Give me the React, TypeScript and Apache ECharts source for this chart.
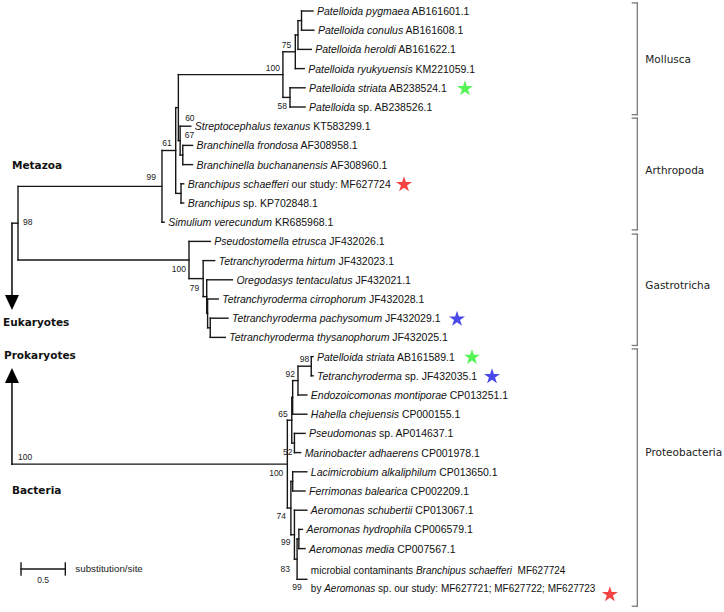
import { useEffect, useRef } from "react";
import * as echarts from "echarts";

// ---------- DATA ----------
// Leaves, top to bottom (row = vertical slot). *...* marks italic text.
const LEAF_LABELS = [
  "*Patelloida pygmaea* AB161601.1",
  "*Patelloida conulus* AB161608.1",
  "*Patelloida heroldi* AB161622.1",
  "*Patelloida ryukyuensis* KM221059.1",
  "*Patelloida striata* AB238524.1",
  "*Patelloida* sp. AB238526.1",
  "*Streptocephalus texanus* KT583299.1",
  "*Branchinella frondosa* AF308958.1",
  "*Branchinella buchananensis* AF308960.1",
  "*Branchipus schaefferi* our study: MF627724",
  "*Branchipus* sp. KP702848.1",
  "*Simulium verecundum* KR685968.1",
  "*Pseudostomella etrusca* JF432026.1",
  "*Tetranchyroderma hirtum* JF432023.1",
  "*Oregodasys tentaculatus* JF432021.1",
  "*Tetranchyroderma cirrophorum* JF432028.1",
  "*Tetranchyroderma pachysomum* JF432029.1",
  "*Tetranchyroderma thysanophorum* JF432025.1",
  "*Patelloida striata* AB161589.1",
  "*Tetranchyroderma* sp. JF432035.1",
  "*Endozoicomonas montiporae* CP013251.1",
  "*Hahella chejuensis* CP000155.1",
  "*Pseudomonas* sp. AP014637.1",
  "*Marinobacter adhaerens* CP001978.1",
  "*Lacimicrobium alkaliphilum* CP013650.1",
  "*Ferrimonas balearica* CP002209.1",
  "*Aeromonas schubertii* CP013067.1",
  "*Aeromonas hydrophila* CP006579.1",
  "*Aeromonas media* CP007567.1",
  "microbial contaminants *Branchipus schaefferi*  MF627724\nby *Aeromonas* sp. our study: MF627721; MF627722; MF627723",
];
const LEAF_ROWS = [0, 1, 2, 3, 4, 5, 6, 7, 8, 9, 10, 11, 12, 13, 14, 15, 16, 17, 18, 19, 20, 21, 22, 23, 24, 25, 26, 27, 28, 29.6];
const LEAF_PARENTS = [
  "A", "A", "B", "C", "S", "S",
  "N60", "N67", "N67", "BR", "BR", "MET",
  "GAS", "N79", "G1", "G2", "G3", "G3",
  "N98", "N98", "N92", "NY", "N52", "N52",
  "NL", "NL", "N99", "HM", "HM", "N83",
];
// tip depth, substitutions/site from the root
const LEAF_DEPTHS = [
  3.33, 3.34, 3.31, 3.23, 3.24, 3.24,
  1.95, 1.97, 1.97, 1.87, 1.87, 1.65,
  2.17, 2.22, 2.42, 2.26, 2.37, 2.34,
  3.33, 3.33, 3.26, 3.26, 3.24, 3.19,
  3.26, 3.24, 3.26, 3.21, 3.24, 3.26,
];
const LEAF_BOOTSTRAP: (number | null)[] = [
  null, null, null, null, null, null, null, null, null, null, null, null, null, null, null,
  null, null, null, null, null, null, null, null, null, null, null, null, null, null, 99,
];

// Internal nodes
const NODE_IDS = ["EUK", "ROOT", "MET", "N61", "NM", "MOL", "C", "B", "A", "S", "N60", "N67", "BR", "GAS", "N79", "G1", "G2", "G3",
  "PROK", "BAC", "N65", "NY", "N92", "N98", "N52", "N74", "NL", "N99", "N83", "HM"];
const NODE_PARENTS: (string | null)[] = [null, "EUK", "ROOT", "MET", "N61", "NM", "MOL", "C", "B", "MOL", "NM", "N60", "N61", "ROOT", "GAS", "N79", "G1", "G2",
  null, "PROK", "BAC", "N65", "NY", "N92", "N65", "BAC", "N74", "N74", "N99", "N83"];
const NODE_DEPTHS = [-0.068, 0, 1.625, 1.78, 1.81, 2.99, 3.13, 3.16, 3.2, 3.07, 1.83, 1.86, 1.84, 1.93, 2.09, 2.13, 2.14, 2.17,
  -0.068, 3.04, 3.09, 3.1, 3.16, 3.31, 3.12, 3.08, 3.1, 3.12, 3.15, 3.17];
const NODE_BOOTSTRAP: (number | null)[] = [null, 98, 99, 61, null, 100, 75, null, null, 58, 60, 67, null, 100, 79, null, null, null,
  100, 100, 65, null, 92, 98, 52, 74, null, 99, 83, null];

// Coloured stars marking sequences
const STAR_X = [5.045, 4.357, 4.955, 5.124, 5.35, 6.68];
const STAR_ROWS = [4, 9, 16, 18, 19, 30.35];
const STAR_COLORS = ["#2cf02c", "#f01414", "#1a1ae6", "#2cf02c", "#1a1ae6", "#f01414"];

// Clade brackets
const CLADES = ["Mollusca", "Arthropoda", "Gastrotricha", "Proteobacteria"];
const CLADE_FROM = [-0.42, 5.58, 11.62, 17.6];
const CLADE_TO = [5.4, 11.4, 17.42, 31.0];

// Root arrows (row where the arrow head tip sits)
const ARROW_NODES = ["EUK", "PROK"];
const ARROW_TIP_ROWS = [15.57, 18.6];

const SCALE_BAR = 0.5;
const SCALE_LABEL = "0.5";
const SCALE_UNIT = "substitution/site";

const GROUP_LABELS = ["Metazoa", "Eukaryotes", "Prokaryotes", "Bacteria"];

// ---------- LAYOUT / STYLE ----------
const PX_PER_UNIT = 88.6;
const PX_PER_ROW = 19.2;
const X_MIN = -0.2, X_MAX = 7.8;
const Y_MIN = -0.5, Y_MAX = 31.3;
const ORIGIN_X = 18; // px of depth 0
const ORIGIN_Y = 11; // px of row 0
const BRACKET_X = 6.99;
const SCALE_POS: [number, number] = [0.034, 29.06];
const GROUP_LABEL_POS: [number, number][] = [[12, 165], [3, 322], [4, 355], [12, 490]];
const CLADE_LABEL_FRAC = [0.5, 0.46, 0.46, 0.4];
const SMALL_LABEL_LEAVES = [29];

const BOOT_OFFSET: Record<string, [number, number, "left" | "right"]> = {
  ROOT: [5, -1, "left"],
  MET: [-6, -9, "right"],
  N61: [-4, -8, "right"],
  MOL: [-3, -7, "right"],
  C: [-4, -7, "right"],
  S: [-3, 9, "right"],
  N60: [5, -23, "left"],
  N67: [2, -20, "left"],
  GAS: [-3, 9, "right"],
  N79: [-4, 9, "right"],
  PROK: [6, -7, "left"],
  BAC: [-4, 9, "right"],
  N65: [-4, -6, "right"],
  N92: [-3, -7, "right"],
  N98: [-2, -7, "right"],
  N52: [-2, 9, "right"],
  N74: [-5, 8, "right"],
  N99: [-4, 7, "right"],
  N83: [-7, 10, "right"],
  LEAF29: [-5, 8, "right"],
};

const LINE = "#161616";
const LW = 1.4;
const SANS = '"Liberation Sans", Arial, sans-serif';
const DEJAVU = '"DejaVu Sans", Verdana, sans-serif';
const STAR_PATH =
  "path://M50,0L61.2,34.5L97.6,34.5L68.2,55.9L79.4,90.5L50,69.1L20.6,90.5L31.8,55.9L2.4,34.5L38.8,34.5Z";

type TNode = { id: string; parent: string | null; depth: number; row: number; boot: number | null; leaf: number; kids: TNode[] };

function buildTree() {
  const map: Record<string, TNode> = {};
  const all: TNode[] = [];
  NODE_IDS.forEach((id, i) => {
    const n: TNode = { id, parent: NODE_PARENTS[i], depth: NODE_DEPTHS[i], row: NaN, boot: NODE_BOOTSTRAP[i], leaf: -1, kids: [] };
    map[id] = n;
    all.push(n);
  });
  LEAF_LABELS.forEach((_, i) => {
    const n: TNode = { id: "LEAF" + i, parent: LEAF_PARENTS[i], depth: LEAF_DEPTHS[i], row: LEAF_ROWS[i], boot: LEAF_BOOTSTRAP[i], leaf: i, kids: [] };
    map[n.id] = n;
    all.push(n);
  });
  all.forEach((n) => {
    if (n.parent) map[n.parent].kids.push(n);
  });
  const rowOf = (n: TNode): number => {
    if (!isNaN(n.row)) return n.row;
    const rs = n.kids.map(rowOf);
    n.row = (Math.min(...rs) + Math.max(...rs)) / 2;
    return n.row;
  };
  all.forEach(rowOf);
  return { map, all };
}

const toRich = (s: string) =>
  s
    .split("*")
    .map((seg, i) => (seg ? `{${i % 2 ? "i" : "n"}|${seg}}` : ""))
    .join("");

export default function App() {
  const ref = useRef<HTMLDivElement>(null);
  useEffect(() => {
    if (!ref.current) return;
    const chart = echarts.init(ref.current, undefined, { renderer: "svg" });
    const { map, all } = buildTree();

    const renderItem = (_params: any, api: any) => {
      const P = (x: number, r: number) => api.coord([x, r]) as number[];
      const ch: any[] = [];
      const seg = (a: number[], b: number[], stroke = LINE, w = LW) =>
        ch.push({ type: "line", shape: { x1: a[0], y1: a[1], x2: b[0], y2: b[1] }, style: { stroke, lineWidth: w, lineCap: "square" } });

      // branches
      all.forEach((n) => {
        if (n.parent) {
          const p = map[n.parent];
          seg(P(p.depth, n.row), P(n.depth, n.row));
        }
        if (n.kids.length > 1) {
          const rs = n.kids.map((k) => k.row);
          seg(P(n.depth, Math.min(...rs)), P(n.depth, Math.max(...rs)));
        }
      });

      // root arrows
      ARROW_NODES.forEach((id, i) => {
        const n = map[id];
        const from = P(n.depth, n.row);
        const tip = P(n.depth, ARROW_TIP_ROWS[i]);
        const dir = tip[1] > from[1] ? 1 : -1;
        const base = tip[1] - dir * 15;
        seg(from, [tip[0], base], LINE, 1.6);
        ch.push({
          type: "polygon",
          shape: { points: [[tip[0] - 7, base], [tip[0] + 7, base], [tip[0], tip[1]]] },
          style: { fill: "#000" },
        });
      });

      // leaf labels
      all.forEach((n) => {
        if (n.leaf < 0) return;
        const p = P(n.depth, n.row);
        const fs = SMALL_LABEL_LEAVES.includes(n.leaf) ? 10 : 10.5;
        ch.push({
          type: "text",
          style: {
            x: p[0] + 4,
            y: p[1],
            text: toRich(LEAF_LABELS[n.leaf]),
            align: "left",
            verticalAlign: "middle",
            rich: {
              n: { fontFamily: SANS, fontSize: fs, fill: "#111", lineHeight: 18 },
              i: { fontFamily: SANS, fontSize: fs, fontStyle: "italic", fill: "#111", lineHeight: 18 },
            },
          },
        });
      });

      // bootstrap values
      all.forEach((n) => {
        if (n.boot == null) return;
        const off = BOOT_OFFSET[n.id] || [-3, -7, "right"];
        const p = P(n.depth, n.row);
        ch.push({
          type: "text",
          style: {
            x: p[0] + off[0],
            y: p[1] + off[1],
            text: String(n.boot),
            align: off[2],
            verticalAlign: "middle",
            font: `8.5px ${SANS}`,
            fill: "#222",
          },
        });
      });

      // clade brackets
      CLADES.forEach((name, i) => {
        const a = P(BRACKET_X, CLADE_FROM[i]);
        const b = P(BRACKET_X, CLADE_TO[i]);
        seg(a, b, "#7a7a7a", 1.3);
        seg([a[0] - 5, a[1]], a, "#7a7a7a", 1.3);
        seg([b[0] - 5, b[1]], b, "#7a7a7a", 1.3);
        ch.push({
          type: "text",
          style: {
            x: a[0] + 8,
            y: a[1] + (b[1] - a[1]) * CLADE_LABEL_FRAC[i],
            text: name,
            align: "left",
            verticalAlign: "middle",
            font: `10.5px ${DEJAVU}`,
            fill: "#222",
          },
        });
      });

      // scale bar
      const s0 = P(SCALE_POS[0], SCALE_POS[1]);
      const s1 = P(SCALE_POS[0] + SCALE_BAR, SCALE_POS[1]);
      seg(s0, s1, LINE, 1.4);
      seg([s0[0], s0[1] - 6], [s0[0], s0[1] + 6], LINE, 1.4);
      seg([s1[0], s1[1] - 6], [s1[0], s1[1] + 6], LINE, 1.4);
      ch.push({
        type: "text",
        style: { x: (s0[0] + s1[0]) / 2, y: s0[1] + 11, text: SCALE_LABEL, align: "center", verticalAlign: "middle", font: `8.5px ${SANS}`, fill: "#222" },
      });
      ch.push({
        type: "text",
        style: { x: s1[0] + 10, y: s0[1], text: SCALE_UNIT, align: "left", verticalAlign: "middle", font: `9.8px ${SANS}`, fill: "#222" },
      });

      return { type: "group", children: ch };
    };

    const gridLeft = ORIGIN_X + X_MIN * PX_PER_UNIT;
    const gridTop = ORIGIN_Y + Y_MIN * PX_PER_ROW;

    chart.setOption({
      animation: false,
      backgroundColor: "#fff",
      grid: {
        left: gridLeft,
        top: gridTop,
        width: (X_MAX - X_MIN) * PX_PER_UNIT,
        height: (Y_MAX - Y_MIN) * PX_PER_ROW,
      },
      xAxis: { type: "value", min: X_MIN, max: X_MAX, show: false },
      yAxis: { type: "value", min: Y_MIN, max: Y_MAX, inverse: true, show: false },
      graphic: GROUP_LABELS.map((t, i) => ({
        type: "text",
        x: GROUP_LABEL_POS[i][0],
        y: GROUP_LABEL_POS[i][1],
        style: { text: t, font: `bold 10.5px ${DEJAVU}`, fill: "#111", verticalAlign: "middle", align: "left" },
      })),
      series: [
        {
          type: "custom",
          clip: false,
          silent: true,
          data: [[0, 0]],
          renderItem,
        },
        {
          type: "scatter",
          clip: false,
          silent: true,
          symbol: STAR_PATH,
          symbolSize: [16, 15],
          data: STAR_X.map((x, i) => ({ value: [x, STAR_ROWS[i]], itemStyle: { color: STAR_COLORS[i] } })),
        },
      ],
    });
    return () => chart.dispose();
  }, []);
  return <div ref={ref} style={{ position: "fixed", left: 0, top: 0, width: 724, height: 612 }} />;
}
